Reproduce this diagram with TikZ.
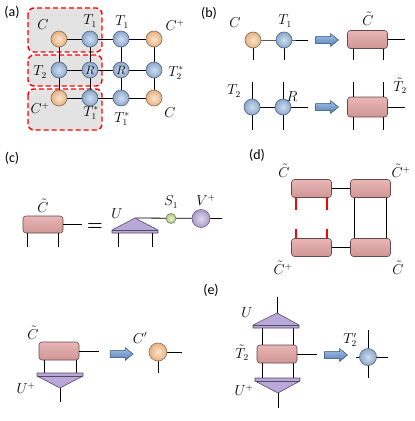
\documentclass[tikz,border=0pt]{standalone}
\usepackage{fontspec}
\newfontfamily\panelfont{Carlito}
\usetikzlibrary{shapes.geometric}
\definecolor{orangeT}{HTML}{F9C28E}
\definecolor{blueT}{HTML}{97B6DE}
\definecolor{pinkT}{HTML}{E3A3A3}
\definecolor{purpleT}{HTML}{BBA8DA}
\definecolor{greenT}{HTML}{C6DD96}
\definecolor{arrowT}{HTML}{5B8FD0}
\newcommand\blockarrowat[1]{%
  \draw[barrowst,shift={#1}] (-11.5,-3.5) -- (3.5,-3.5) -- (3.5,-6.5) -- (11.5,0) -- (3.5,6.5) -- (3.5,3.5) -- (-11.5,3.5) -- cycle;}
\begin{document}
\begin{tikzpicture}[x=1pt,y=-1pt,
  ball/.style={circle,draw=#1!55!black,shading=radial,inner color=#1!45!white,outer color=#1!92!black,minimum size=16pt,inner sep=0pt,line width=0.6pt,font=\fontsize{12}{12}\selectfont},
  rbox/.style={rectangle,rounded corners=3pt,draw=pinkT!45!black,top color=pinkT!80!white,bottom color=pinkT!92!black,minimum width=40pt,minimum height=18pt,inner sep=0pt,line width=0.6pt},
  gbox/.style={fill=gray!22,draw=red,dash pattern=on 5pt off 3pt,line width=1.4pt,rounded corners=6pt},
  barrowst/.style={top color=arrowT!55!white,bottom color=arrowT!90!black,draw=arrowT!50!black,line width=0.5pt,line join=miter},
  tri/.style={fill=purpleT,draw=purpleT!45!black,line width=0.6pt,line join=round},
  bond/.style={draw=black,line width=0.8pt},
  redbond/.style={draw=red,line width=2.2pt},
  lab/.style={inner sep=0pt,font=\fontsize{13.5}{13.5}\selectfont},
  plab/.style={inner sep=0pt,font=\panelfont\fontsize{14}{14}\selectfont}]
\useasboundingbox (0,0) rectangle (415,421);

% ---------------- (a) ----------------
\node[plab] (la) at (12,12) {(a)};
\draw[gbox] (28,8) rectangle (102,52);
\draw[gbox] (28,55) rectangle (102,86);
\draw[gbox] (28,89) rectangle (102,130);
\foreach \r/\yy in {1/39,2/70,3/98}{
  \foreach \c/\xx in {1/59,2/90,3/121,4/154}{
    \coordinate (p\r\c) at (\xx,\yy);}}
\draw[bond] (p11) -- (p14) (p21) -- (p24) (p31) -- (p34)
            (p11) -- (p31) (p12) -- (p32) (p13) -- (p33) (p14) -- (p34);
\node[ball=orangeT] (a11) at (p11) {};
\node[ball=blueT] (a12) at (p12) {};
\node[ball=blueT] (a13) at (p13) {};
\node[ball=orangeT] (a14) at (p14) {};
\node[ball=blueT] (a21) at (p21) {};
\node[ball=blueT] (a22) at (p22) {$R$};
\node[ball=blueT] (a23) at (p23) {$R$};
\node[ball=blueT] (a24) at (p24) {};
\node[ball=orangeT] (a31) at (p31) {};
\node[ball=blueT] (a32) at (p32) {};
\node[ball=blueT] (a33) at (p33) {};
\node[ball=orangeT] (a34) at (p34) {};
\node[lab] (tla1) at (43,25) {$C$};
\node[lab] (tla2) at (90,21) {$T_1$};
\node[lab] (tla3) at (122,22) {$T_1$};
\node[lab] (tla4) at (175,25) {$C^{+}$};
\node[lab] (tla5) at (40,72) {$T_2$};
\node[lab] (tla6) at (176,73) {$T_2^{*}$};
\node[lab] (tla7) at (40,108) {$C^{+}$};
\node[lab] (tla8) at (91,113) {$T_1^{*}$};
\node[lab] (tla9) at (122,119) {$T_1^{*}$};
\node[lab] (tla10) at (170,113) {$C$};

% ---------------- (b) ----------------
\node[plab] (lb) at (209,13) {(b)};
\coordinate (bCd) at (253,60);
\coordinate (bT1d) at (284,60);
\coordinate (bT1r) at (308,40);
\coordinate (bCc) at (253,40);
\coordinate (bT1c) at (284,40);
\draw[bond] (bCc) -- (bT1c) -- (bT1r);
\draw[bond] (bCc) -- (bCd);
\draw[bond] (bT1c) -- (bT1d);
\node[ball=orangeT] (bC) at (bCc) {};
\node[ball=blueT] (bT1) at (bT1c) {};
\blockarrowat{(327,40)}
\node[rbox] (bR1) at (367.5,39.5) {};
\coordinate (bR1l) at (353,60);
\coordinate (bR1m) at (383,60);
\coordinate (bR1r) at (405,39.5);
\draw[bond] (bR1l|-bR1.south) -- (bR1l);
\draw[bond] (bR1m|-bR1.south) -- (bR1m);
\draw[bond] (bR1) -- (bR1r);
\node[lab] (tlb1) at (235,23) {$C$};
\node[lab] (tlb2) at (285,21) {$T_1$};
\node[lab] (tlb3) at (368,19) {$\tilde{C}$};

\coordinate (bT2u) at (252,82);
\coordinate (bT2d) at (252,130);
\coordinate (bRu) at (283,82);
\coordinate (bRd) at (283,130);
\coordinate (bRr) at (308,107);
\coordinate (bT2c) at (252,107);
\coordinate (bRc) at (283,107);
\draw[bond] (bT2u) -- (bT2d);
\draw[bond] (bRu) -- (bRd);
\draw[bond] (bT2c) -- (bRr);
\node[ball=blueT] (bT2) at (bT2c) {};
\node[ball=blueT] (bR) at (bRc) {};
\blockarrowat{(327,107)}
\node[rbox,minimum height=20pt] (bR2) at (367.5,107) {};
\coordinate (bR2lu) at (353,82);
\coordinate (bR2ld) at (353,130);
\coordinate (bR2mu) at (383,82);
\coordinate (bR2md) at (383,130);
\coordinate (bR2r) at (405,107);
\draw[bond] (bR2lu) -- (bR2lu|-bR2.north);
\draw[bond] (bR2ld|-bR2.south) -- (bR2ld);
\draw[bond] (bR2mu) -- (bR2mu|-bR2.north);
\draw[bond] (bR2md|-bR2.south) -- (bR2md);
\draw[bond] (bR2) -- (bR2r);
\node[lab] (tlb4) at (234,91) {$T_2$};
\node[lab] (tlb5) at (292,97) {$R$};
\node[lab] (tlb6) at (400,86) {$\tilde{T}_2$};

% ---------------- (c) ----------------
\node[plab] (lc) at (12,158) {(c)};
\node[rbox,minimum height=17pt] (cR) at (43,224.5) {};
\coordinate (cRl) at (27,247);
\coordinate (cRm) at (58,247);
\coordinate (cRr) at (82,224.5);
\draw[bond] (cRl|-cR.south) -- (cRl);
\draw[bond] (cRm|-cR.south) -- (cRm);
\draw[bond] (cR) -- (cRr);
\node[lab] (tlc1) at (43,206) {$\tilde{C}$};
\node[inner sep=0pt,font=\fontsize{18}{18}\selectfont\bfseries] (ceq) at (95,227) {=};
\coordinate (cU) at (135,218);
\coordinate (cVr) at (222,218.5);
\coordinate (cSc) at (171,218.5);
\coordinate (cVc) at (201,218.5);
\draw[bond] (cU) -- (cVr);
\draw[tri] (112,233) -- (112,230) -- (cU) -- (158,230) -- (158,233) -- cycle;
\draw[purpleT!45!black,line width=0.5pt] (112,230) -- (158,230);
\coordinate (cUl) at (118,233);
\coordinate (cUld) at (118,247);
\coordinate (cUm) at (152,233);
\coordinate (cUmd) at (152,247);
\draw[bond] (cUl) -- (cUld);
\draw[bond] (cUm) -- (cUmd);
\node[ball=greenT,minimum size=10pt] (cS) at (cSc) {};
\node[ball=purpleT,minimum size=18pt] (cV) at (cVc) {};
\node[lab] (tlc2) at (117,214) {$U$};
\node[lab] (tlc3) at (171,202) {$S_1$};
\node[lab] (tlc4) at (206,200) {$V^{+}$};

% ---------------- (d) ----------------
\node[plab] (ld) at (257,155) {(d)};
\node[rbox] (dTL) at (311.5,188.5) {};
\node[rbox] (dTR) at (370.5,188.5) {};
\node[rbox] (dBL) at (311.5,247.5) {};
\node[rbox] (dBR) at (370.5,247.5) {};
\draw[bond] (dTL) -- (dTR);
\draw[bond] (dBL) -- (dBR);
\coordinate (dv1) at (354,0);
\coordinate (dv2) at (386,0);
\draw[bond] (dv1|-dTR.south) -- (dv1|-dBR.north);
\draw[bond] (dv2|-dTR.south) -- (dv2|-dBR.north);
\coordinate (dr1) at (296,210);
\coordinate (dr2) at (327,210);
\coordinate (dr3) at (296,229);
\coordinate (dr4) at (327,229);
\draw[redbond] (dr1|-dTL.south) -- (dr1);
\draw[redbond] (dr2|-dTL.south) -- (dr2);
\draw[redbond] (dr3) -- (dr3|-dBL.north);
\draw[redbond] (dr4) -- (dr4|-dBL.north);
\node[lab] (tld1) at (284,171) {$\tilde{C}$};
\node[lab] (tld2) at (401,171) {$\tilde{C}^{+}$};
\node[lab] (tld3) at (283,268) {$\tilde{C}^{+}$};
\node[lab] (tld4) at (398,268) {$\tilde{C}$};

% ---------------- (e) ----------------
\node[plab] (le) at (211,290) {(e)};
% left
\node[rbox] (eR) at (59,351) {};
\coordinate (eTl) at (44,373);
\coordinate (eTm) at (76,373);
\coordinate (eApex) at (60,388);
\coordinate (eBot) at (60,402);
\coordinate (eRr) at (99,351);
\draw[bond] (eTl|-eR.south) -- (eTl);
\draw[bond] (eTm|-eR.south) -- (eTm);
\draw[bond] (eApex) -- (eBot);
\draw[bond] (eR) -- (eRr);
\draw[tri] (37,373) -- (83,373) -- (83,376) -- (eApex) -- (37,376) -- cycle;
\draw[purpleT!45!black,line width=0.5pt] (37,376) -- (83,376);
\blockarrowat{(121.5,354)}
\coordinate (eCc) at (158,352);
\coordinate (eCr) at (182,352);
\coordinate (eCd) at (158,373);
\draw[bond] (eCc) -- (eCr);
\draw[bond] (eCc) -- (eCd);
\node[ball=orangeT,minimum size=18pt] (eC) at (eCc) {};
\node[lab] (tle1) at (33,333) {$\tilde{C}$};
\node[lab] (tle2) at (26,388) {$U^{+}$};
\node[lab] (tle3) at (140,338) {$C'$};
% right
\coordinate (fApex) at (277,313);
\coordinate (fTop) at (277,297);
\draw[bond] (fTop) -- (fApex);
\node[rbox] (fR) at (277,354) {};
\coordinate (fL1) at (262,328);
\coordinate (fL2) at (293,328);
\coordinate (fL3) at (262,378);
\coordinate (fL4) at (293,378);
\draw[bond] (fL1) -- (fL1|-fR.north);
\draw[bond] (fL2) -- (fL2|-fR.north);
\draw[bond] (fL3|-fR.south) -- (fL3);
\draw[bond] (fL4|-fR.south) -- (fL4);
\draw[tri] (253,328) -- (253,325) -- (fApex) -- (299,325) -- (299,328) -- cycle;
\draw[purpleT!45!black,line width=0.5pt] (253,325) -- (299,325);
\coordinate (fApex2) at (278,393);
\coordinate (fBot) at (278,408);
\draw[bond] (fApex2) -- (fBot);
\draw[tri] (255,378) -- (300,378) -- (300,381) -- (fApex2) -- (255,381) -- cycle;
\draw[purpleT!45!black,line width=0.5pt] (255,381) -- (300,381);
\coordinate (fRr) at (317,354);
\draw[bond] (fR) -- (fRr);
\blockarrowat{(336,355)}
\coordinate (fTc) at (368,357);
\coordinate (fTu) at (368,330);
\coordinate (fTd) at (368,378);
\coordinate (fTr) at (388,357);
\coordinate (fTl) at (356,357);
\draw[bond] (fTu) -- (fTd);
\draw[bond] (fTl) -- (fTr);
\node[ball=blueT,minimum size=17pt] (fT) at (fTc) {};
\node[lab] (tlf1) at (247,313) {$U$};
\node[lab] (tlf2) at (242,353) {$\tilde{T}_2$};
\node[lab] (tlf3) at (244,390) {$U^{+}$};
\node[lab] (tlf4) at (350,340) {$T'_{2}$};
\end{tikzpicture}
\end{document}
